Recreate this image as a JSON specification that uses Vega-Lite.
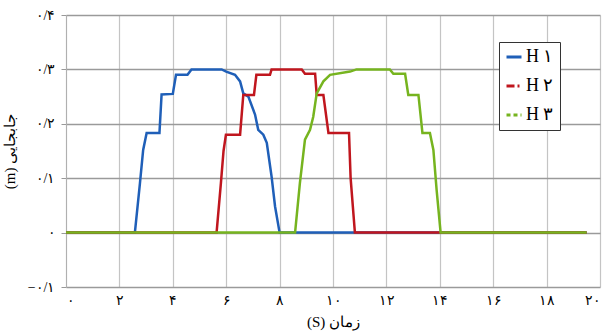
{
  "$schema": "https://vega.github.io/schema/vega-lite/v6.json",
  "autosize": "none",
  "width": 534,
  "height": 272,
  "padding": {"left": 66, "top": 15, "right": 5, "bottom": 49},
  "background": "white",
  "config": {
    "view": {"stroke": null},
    "font": "Liberation Serif"
  },
  "data": {
    "values": [
      {"s": "H ۱", "t": 0, "v": 0},
      {"s": "H ۱", "t": 2.58, "v": 0},
      {"s": "H ۱", "t": 2.77, "v": 0.091},
      {"s": "H ۱", "t": 2.89, "v": 0.152},
      {"s": "H ۱", "t": 3.02, "v": 0.183},
      {"s": "H ۱", "t": 3.5, "v": 0.183},
      {"s": "H ۱", "t": 3.58, "v": 0.254},
      {"s": "H ۱", "t": 4.0, "v": 0.255},
      {"s": "H ۱", "t": 4.12, "v": 0.29},
      {"s": "H ۱", "t": 4.55, "v": 0.29},
      {"s": "H ۱", "t": 4.7, "v": 0.3},
      {"s": "H ۱", "t": 5.83, "v": 0.3},
      {"s": "H ۱", "t": 6.0, "v": 0.296},
      {"s": "H ۱", "t": 6.33, "v": 0.29},
      {"s": "H ۱", "t": 6.52, "v": 0.278},
      {"s": "H ۱", "t": 6.64, "v": 0.256},
      {"s": "H ۱", "t": 6.83, "v": 0.25},
      {"s": "H ۱", "t": 7.08, "v": 0.217},
      {"s": "H ۱", "t": 7.2, "v": 0.189},
      {"s": "H ۱", "t": 7.39, "v": 0.18},
      {"s": "H ۱", "t": 7.52, "v": 0.165},
      {"s": "H ۱", "t": 7.7, "v": 0.103},
      {"s": "H ۱", "t": 7.83, "v": 0.048},
      {"s": "H ۱", "t": 8.0, "v": 0},
      {"s": "H ۱", "t": 19.5, "v": 0},
      {"s": "H ۲", "t": 0, "v": 0},
      {"s": "H ۲", "t": 5.64, "v": 0},
      {"s": "H ۲", "t": 5.8, "v": 0.09},
      {"s": "H ۲", "t": 5.9, "v": 0.15},
      {"s": "H ۲", "t": 5.99, "v": 0.18},
      {"s": "H ۲", "t": 6.52, "v": 0.18},
      {"s": "H ۲", "t": 6.64, "v": 0.253},
      {"s": "H ۲", "t": 7.04, "v": 0.253},
      {"s": "H ۲", "t": 7.13, "v": 0.29},
      {"s": "H ۲", "t": 7.64, "v": 0.29},
      {"s": "H ۲", "t": 7.7, "v": 0.3},
      {"s": "H ۲", "t": 8.83, "v": 0.3},
      {"s": "H ۲", "t": 8.95, "v": 0.292},
      {"s": "H ۲", "t": 9.33, "v": 0.292},
      {"s": "H ۲", "t": 9.39, "v": 0.253},
      {"s": "H ۲", "t": 9.64, "v": 0.253},
      {"s": "H ۲", "t": 9.83, "v": 0.183},
      {"s": "H ۲", "t": 10.6, "v": 0.183},
      {"s": "H ۲", "t": 10.66, "v": 0.1},
      {"s": "H ۲", "t": 10.82, "v": 0},
      {"s": "H ۲", "t": 19.5, "v": 0},
      {"s": "H ۳", "t": 0, "v": 0},
      {"s": "H ۳", "t": 8.58, "v": 0},
      {"s": "H ۳", "t": 8.76, "v": 0.091},
      {"s": "H ۳", "t": 8.95, "v": 0.171},
      {"s": "H ۳", "t": 9.14, "v": 0.189},
      {"s": "H ۳", "t": 9.26, "v": 0.213},
      {"s": "H ۳", "t": 9.39, "v": 0.256},
      {"s": "H ۳", "t": 9.64, "v": 0.278},
      {"s": "H ۳", "t": 9.89, "v": 0.29},
      {"s": "H ۳", "t": 10.64, "v": 0.296},
      {"s": "H ۳", "t": 10.88, "v": 0.3},
      {"s": "H ۳", "t": 12.13, "v": 0.3},
      {"s": "H ۳", "t": 12.26, "v": 0.292},
      {"s": "H ۳", "t": 12.7, "v": 0.292},
      {"s": "H ۳", "t": 12.82, "v": 0.253},
      {"s": "H ۳", "t": 13.2, "v": 0.253},
      {"s": "H ۳", "t": 13.35, "v": 0.183},
      {"s": "H ۳", "t": 13.63, "v": 0.183},
      {"s": "H ۳", "t": 13.76, "v": 0.152},
      {"s": "H ۳", "t": 13.88, "v": 0.079},
      {"s": "H ۳", "t": 14.03, "v": 0},
      {"s": "H ۳", "t": 19.5, "v": 0}
    ]
  },
  "mark": {"type": "line", "strokeWidth": 2.5, "interpolate": "linear"},
  "encoding": {
    "x": {
      "field": "t", "type": "quantitative",
      "scale": {"domain": [0, 20], "nice": false},
      "axis": {
        "values": [0, 2, 4, 6, 8, 10, 12, 14, 16, 18, 20],
        "labelExpr": "['۰','۲','۴','۶','۸','۱۰','۱۲','۱۴','۱۶','۱۸','۲۰'][round(datum.value/2)]",
        "title": "(S) زمان",
        "domain": false,
        "ticks": false,
        "grid": true,
        "gridColor": "#c4c4c4",
        "gridWidth": 1.2,
        "gridOpacity": 1,
        "labelFontSize": 14,
        "labelColor": "#000",
        "labelPadding": 6,
        "titleFontSize": 15,
        "titleFontWeight": "normal",
        "titleColor": "#000",
        "titlePadding": 7
      }
    },
    "y": {
      "field": "v", "type": "quantitative",
      "scale": {"domain": [-0.1, 0.4], "nice": false},
      "axis": {
        "values": [-0.1, 0, 0.1, 0.2, 0.3, 0.4],
        "labelExpr": "datum.value == 0 ? '۰' : (datum.value < 0 ? '−' : '') + '۰/' + ['', '۱', '۲', '۳', '۴'][round(abs(datum.value) * 10)]",
        "title": "(m) جابجایی",
        "domain": true,
        "domainColor": "#b0b0b0",
        "ticks": true,
        "tickSize": 5,
        "tickColor": "#999",
        "grid": true,
        "gridColor": "#9a9a9a",
        "gridWidth": 1.5,
        "gridOpacity": 1,
        "labelFontSize": 14,
        "labelColor": "#000",
        "labelPadding": 6,
        "titleFontSize": 15,
        "titleFontWeight": "normal",
        "titleColor": "#000",
        "titlePadding": 10
      }
    },
    "color": {
      "field": "s", "type": "nominal",
      "scale": {"domain": ["H ۱", "H ۲", "H ۳"], "range": ["#1f5fb8", "#c0161e", "#76b41f"]},
      "legend": {
        "title": null,
        "orient": "none",
        "legendX": 433,
        "legendY": 27,
        "symbolType": "stroke",
        "symbolSize": 225,
        "symbolStrokeWidth": 3,
        "labelFontSize": 18,
        "labelFont": "Liberation Serif",
        "labelColor": "#000",
        "labelOffset": 3,
        "rowPadding": 11,
        "padding": 6,
        "strokeColor": "#333",
        "fillColor": "white",
        "encode": {
          "symbols": {
            "update": {
              "strokeDash": {"signal": "datum.value == 'H ۲' ? [8, 3, 2, 3] : datum.value == 'H ۳' ? [4, 3] : [1, 0]"}
            }
          }
        }
      }
    },
    "order": {"field": "t", "type": "quantitative"}
  }
}
